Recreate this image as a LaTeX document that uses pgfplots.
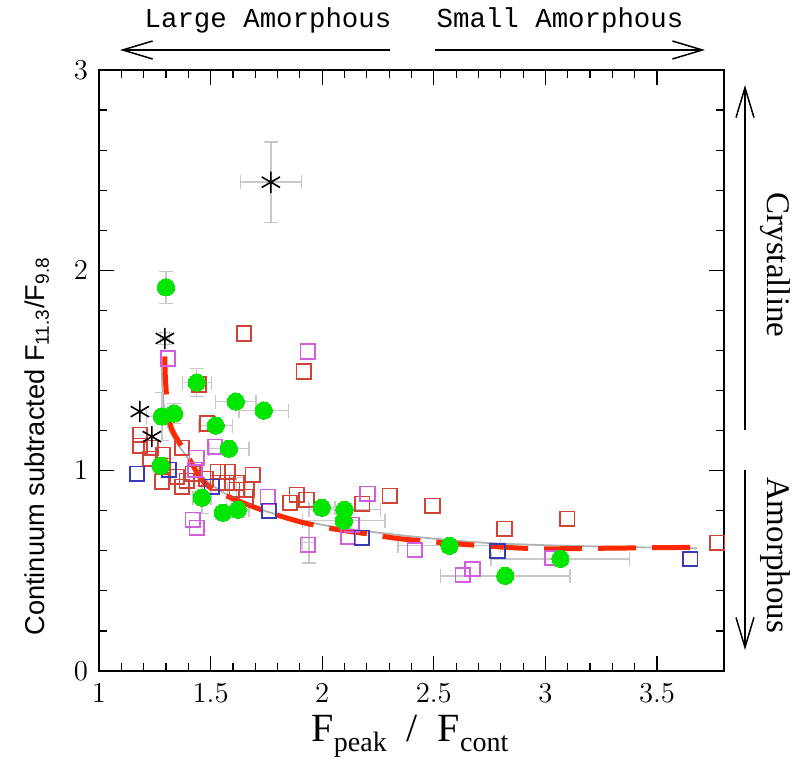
\documentclass[border=0pt]{standalone}
\usepackage{fontspec}
\setmainfont{Liberation Serif}
\newfontfamily\sansf{Liberation Sans}
\newfontfamily\monof{Liberation Mono}
\usepackage{pgfplots}
\pgfplotsset{compat=1.18}
\usetikzlibrary{arrows.meta}
\definecolor{redsq}{RGB}{208,68,56}
\definecolor{pinksq}{RGB}{212,92,222}
\definecolor{bluesq}{RGB}{58,58,182}
\definecolor{greenpt}{RGB}{0,230,0}
\definecolor{reddash}{RGB}{255,40,0}
\definecolor{errgray}{RGB}{200,200,200}
\begin{document}
\begin{tikzpicture}
\path[use as bounding box] (-49.5pt,-48pt) rectangle (349.5pt,335.5pt);
\begin{axis}[
  name=ax, at={(0,0)}, anchor=south west,
  scale only axis, width=312.5pt, height=300.5pt,
  xmin=1, xmax=3.8, ymin=0, ymax=3,
  xtick={1,1.5,2,2.5,3,3.5}, ytick={0,1,2,3},
  minor x tick num=4, minor y tick num=4,
  tick align=inside,
  major tick length=7.5pt, minor tick length=4pt,
  every tick/.style={black, line width=0.6pt},
  axis line style={line width=0.9pt},
  clip=false,
  tick label style={font=\fontsize{14}{16}\selectfont},
  xticklabel style={yshift=-3pt},
  yticklabel style={xshift=-2pt},
]
% grey fit line
\addplot[errgray!70!gray, line width=0.9pt, smooth] coordinates {
(1.280,1.55) (1.285,1.40) (1.298,1.26) (1.330,1.17) (1.400,1.06) (1.470,0.965)
(1.550,0.895) (1.700,0.815) (1.900,0.752) (2.100,0.712) (2.400,0.672)
(2.700,0.642) (3.000,0.628) (3.400,0.618) (3.680,0.612)};
% error bars
\addplot[draw=none, mark=none, error bars/.cd, x dir=both, x explicit, y dir=both, y explicit,
  error bar style={draw=errgray, line width=0.7pt},
  error mark options={draw=errgray, line width=0.7pt, mark size=3.5pt, rotate=90}]
 table[x=x, y=y, x error=ex, y error=ey] {
x y ex ey
1.300 1.915 0.02 0.08
1.438 1.440 0.065 0.07
1.613 1.345 0.09 0.03
1.738 1.300 0.11 0.03
1.336 1.285 0.03 0.05
1.282 1.270 0.07 0.12
1.523 1.225 0.075 0.03
1.582 1.110 0.09 0.03
1.277 1.025 0.03 0.04
1.461 0.865 0.04 0.08
1.555 0.790 0.03 0.03
1.622 0.805 0.05 0.04
1.998 0.815 0.06 0.03
2.100 0.805 0.16 0.03
2.097 0.750 0.185 0.03
2.570 0.625 0.23 0.03
2.820 0.475 0.29 0.02
3.067 0.560 0.31 0.02
1.770 2.440 0.137 0.20
1.295 1.660 0.02 0.03
1.940 0.640 0.03 0.10
1.617 0.905 0.04 0.06
};
% red squares
\addplot[only marks, mark=square, mark size=3.6pt, draw=redsq, mark options={draw=redsq, line width=0.9pt}] table {
1.649 1.685
1.917 1.495
1.447 1.430
1.483 1.235
1.183 1.180
1.183 1.125
1.233 1.115
1.286 1.080
1.371 1.115
1.228 1.060
1.286 1.025
1.282 0.945
1.349 0.970
1.371 0.920
1.393 0.950
1.532 0.995
1.577 0.995
1.532 0.940
1.572 0.940
1.617 0.940
1.617 0.905
1.662 0.905
1.689 0.980
1.658 0.870
1.886 0.880
1.930 0.855
1.855 0.840
1.480 0.960
1.420 0.985
2.180 0.835
2.302 0.875
2.494 0.825
2.817 0.710
3.098 0.760
3.770 0.640
};
% pink squares
\addplot[only marks, mark=square, mark size=3.6pt, draw=pinksq, mark options={draw=pinksq, line width=0.9pt}] table {
1.309 1.560
1.935 1.595
1.519 1.120
1.438 1.065
1.430 1.005
1.756 0.870
1.420 0.755
1.438 0.715
2.203 0.885
1.935 0.630
2.132 0.730
2.115 0.670
2.414 0.605
2.629 0.480
2.673 0.510
3.030 0.565
};
% blue squares
\addplot[only marks, mark=square, mark size=3.6pt, draw=bluesq, mark options={draw=bluesq, line width=0.9pt}] table {
1.170 0.985
1.313 1.005
1.505 0.920
1.761 0.800
2.177 0.665
2.785 0.600
3.649 0.560
};
% green circles
\addplot[only marks, mark=*, mark size=4.3pt, draw=greenpt, fill=greenpt, mark options={draw=greenpt, fill=greenpt, line width=0pt}] table {
1.300 1.915
1.438 1.440
1.613 1.345
1.738 1.300
1.336 1.285
1.282 1.270
1.523 1.225
1.582 1.110
1.277 1.025
1.461 0.865
1.555 0.790
1.622 0.805
1.998 0.815
2.100 0.805
2.097 0.750
2.570 0.625
2.820 0.475
3.067 0.560
};
% red dashed fit
\addplot[reddash, line width=2.5pt, dash pattern=on 19pt off 8pt, smooth] coordinates {
(1.295,1.57) (1.297,1.47) (1.303,1.37) (1.312,1.27) (1.327,1.205) (1.360,1.140)
(1.390,1.090) (1.450,0.970) (1.510,0.905) (1.580,0.870) (1.644,0.840) (1.765,0.790)
(1.900,0.745) (2.000,0.720) (2.100,0.700) (2.200,0.685) (2.350,0.660) (2.600,0.635)
(2.860,0.615) (3.000,0.610) (3.200,0.612) (3.450,0.615) (3.650,0.617)};
% asterisks
\addplot[only marks, mark=asterisk, mark size=5.3pt, draw=black, mark options={draw=black, line width=0.8pt}] table {
1.770 2.440
1.295 1.660
1.183 1.295
1.237 1.170
};
% annotations
\node[font=\monof\fontsize{13.7}{15}\selectfont] at (rel axis cs:0.2704,1.083) {Large Amorphous};
\node[font=\monof\fontsize{13.7}{15}\selectfont] at (rel axis cs:0.7376,1.083) {Small Amorphous};
\draw[line width=0.75pt, -{Straight Barb[length=15pt,width=9pt,line width=0.75pt]}] (rel axis cs:0.4656,1.0333) -- (rel axis cs:0.0336,1.0333);
\draw[line width=0.75pt, -{Straight Barb[length=15pt,width=9pt,line width=0.75pt]}] (rel axis cs:0.5376,1.0333) -- (rel axis cs:0.9696,1.0333);
\draw[line width=0.75pt, -{Straight Barb[length=15pt,width=9pt,line width=0.75pt]}] (rel axis cs:1.0336,0.401) -- (rel axis cs:1.0336,0.975);
\draw[line width=0.75pt, -{Straight Barb[length=15pt,width=9pt,line width=0.75pt]}] (rel axis cs:1.0336,0.334) -- (rel axis cs:1.0336,0.035);
\node[rotate=-90, font=\fontsize{16.5}{18}\selectfont] at (rel axis cs:1.0816,0.6755) {Crystalline};
\node[rotate=-90, font=\fontsize{16.5}{18}\selectfont] at (rel axis cs:1.0816,0.193) {Amorphous};
\node[rotate=90, font=\sansf\fontsize{13.6}{15}\selectfont] at (rel axis cs:-0.0992,0.374) {Continuum subtracted F\textsubscript{11.3}/F\textsubscript{9.8}};
\node[font=\fontsize{20}{22}\selectfont, anchor=base] at (rel axis cs:0.4976,-0.118) {F\raisebox{-0.25em}{\fontsize{14}{14}\selectfont peak}\ \ /\ \ F\raisebox{-0.25em}{\fontsize{14}{14}\selectfont cont}};
\end{axis}
\end{tikzpicture}
\end{document}
